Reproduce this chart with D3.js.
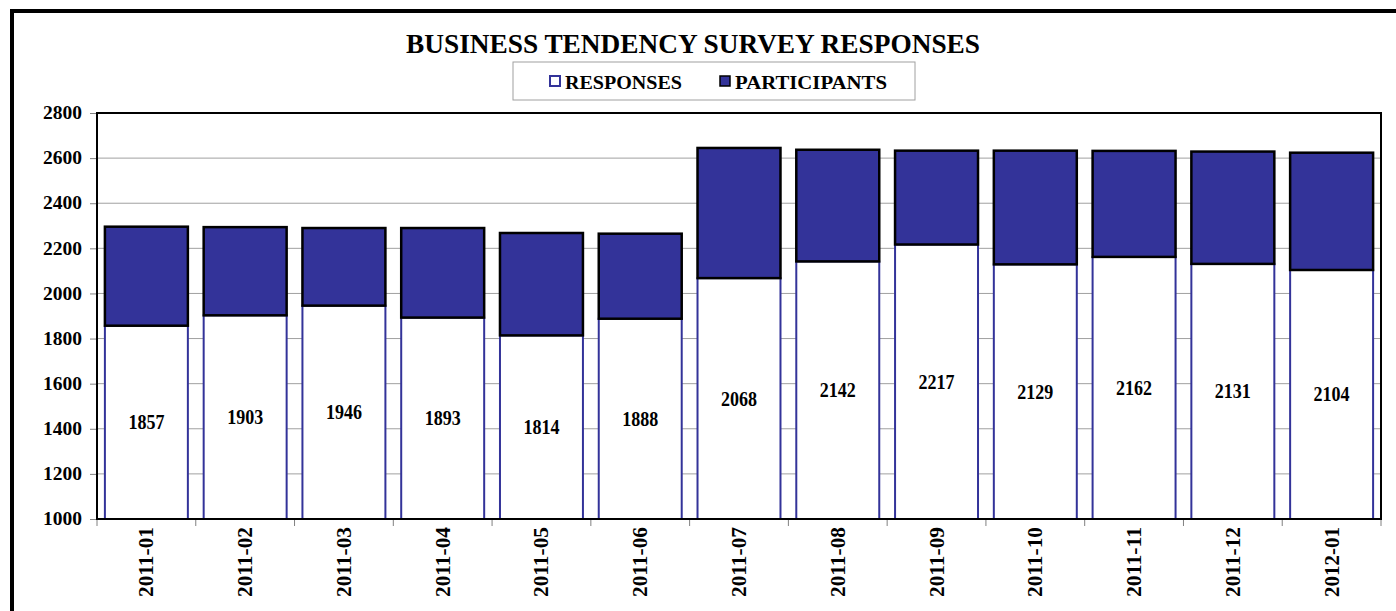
<!DOCTYPE html>
<html><head><meta charset="utf-8">
<script src="https://cdn.jsdelivr.net/npm/d3@7"></script>
<style>body{margin:0;background:#fff;} svg{display:block;font-family:"Liberation Serif","Times New Roman",serif;font-weight:bold;}</style>
</head><body>
<svg id="c" width="1396" height="611"></svg>
<script>
const categories = ["2011-01","2011-02","2011-03","2011-04","2011-05","2011-06","2011-07","2011-08","2011-09","2011-10","2011-11","2011-12","2012-01"];
const responses = [1857,1903,1946,1893,1814,1888,2068,2142,2217,2129,2162,2131,2104];
const participants = [2296,2294,2290,2290,2268,2265,2645,2637,2633,2633,2632,2629,2624];
const yTicks = [1000,1200,1400,1600,1800,2000,2200,2400,2600,2800];
const title = "BUSINESS TENDENCY SURVEY RESPONSES";
const legendLabels = ["RESPONSES","PARTICIPANTS"];

const svg = d3.select("#c");
const m = {l:97, t:113, r:1381, b:519};
const navy = "#333399";

// outer frame
svg.append("rect").attr("x",12).attr("y",11).attr("width",1400).attr("height",620)
  .attr("fill","none").attr("stroke","#000").attr("stroke-width",4);

const x = d3.scaleBand().domain(categories).range([m.l,m.r]).paddingInner(0.16).paddingOuter(0.08);
const y = d3.scaleLinear().domain([1000,2800]).range([m.b,m.t]);

// grid
svg.append("g").selectAll("line").data(yTicks.slice(1,-1)).join("line")
  .attr("x1",m.l).attr("x2",m.r).attr("y1",d=>y(d)).attr("y2",d=>y(d))
  .attr("stroke","#a0a0a0").attr("stroke-width",1);

// y axis
const ya = svg.append("g").attr("transform",`translate(${m.l},0)`)
  .call(d3.axisLeft(y).tickValues(yTicks).tickFormat(d3.format("d")).tickSize(7).tickPadding(8));
ya.select(".domain").remove();
ya.selectAll("line").attr("stroke","#808080");
ya.selectAll("text").attr("font-size",18).attr("font-weight","bold").attr("fill","#000")
  .attr("font-family","Liberation Serif").attr("textLength",39).attr("lengthAdjust","spacingAndGlyphs");

// x axis ticks at band boundaries
const bounds = d3.range(categories.length+1).map(i=> m.l + i*(m.r-m.l)/categories.length);
svg.append("g").selectAll("line").data(bounds).join("line")
  .attr("x1",d=>d).attr("x2",d=>d).attr("y1",m.b).attr("y2",m.b+7)
  .attr("stroke","#808080");

// bars
const g = svg.append("g");
g.selectAll(".resp").data(categories).join("rect").attr("class","resp")
  .attr("x",d=>x(d)).attr("width",x.bandwidth())
  .attr("y",(d,i)=>y(responses[i])).attr("height",(d,i)=>y(1000)-y(responses[i]))
  .attr("fill","#fff").attr("stroke",navy).attr("stroke-width",2);
g.selectAll(".part").data(categories).join("rect").attr("class","part")
  .attr("x",d=>x(d)).attr("width",x.bandwidth())
  .attr("y",(d,i)=>y(participants[i])).attr("height",(d,i)=>y(responses[i])-y(participants[i]))
  .attr("fill",navy).attr("stroke","#000").attr("stroke-width",2.5);

// data labels
g.selectAll(".lbl").data(categories).join("text")
  .attr("x",d=>x(d)+x.bandwidth()/2)
  .attr("y",(d,i)=>y((responses[i]+1000)/2))
  .attr("dy","0.35em").attr("text-anchor","middle").attr("font-size",20)
  .attr("textLength",36).attr("lengthAdjust","spacingAndGlyphs")
  .text((d,i)=>responses[i]);

// plot border
svg.append("rect").attr("x",m.l).attr("y",m.t).attr("width",m.r-m.l).attr("height",m.b-m.t)
  .attr("fill","none").attr("stroke","#000").attr("stroke-width",2);

// x labels
svg.append("g").selectAll("text").data(categories).join("text")
  .attr("transform",d=>`translate(${x(d)+x.bandwidth()/2+7},${m.b+8}) rotate(-90)`)
  .attr("text-anchor","end").attr("font-size",21)
  .attr("textLength",70).attr("lengthAdjust","spacingAndGlyphs").text(d=>d);

// title
svg.append("text").attr("x",693).attr("y",53).attr("text-anchor","middle")
  .attr("font-size",27).attr("textLength",574).attr("lengthAdjust","spacingAndGlyphs").text(title);

// legend
svg.append("rect").attr("x",513).attr("y",62).attr("width",402).attr("height",38)
  .attr("fill","#fff").attr("stroke","#a0a0a0").attr("stroke-width",1);
const lx = [549,719];
const lw = [117,152];
legendLabels.forEach((t,i)=>{
  svg.append("rect").attr("x",lx[i]+1).attr("y",76).attr("width",10).attr("height",10)
    .attr("fill",i?navy:"#fff").attr("stroke",i?"#000":navy).attr("stroke-width",i?1.5:2);
  svg.append("text").attr("x",lx[i]+16).attr("y",89).attr("font-size",19)
    .attr("textLength",lw[i]).attr("lengthAdjust","spacingAndGlyphs").text(t);
});
</script>
</body></html>
